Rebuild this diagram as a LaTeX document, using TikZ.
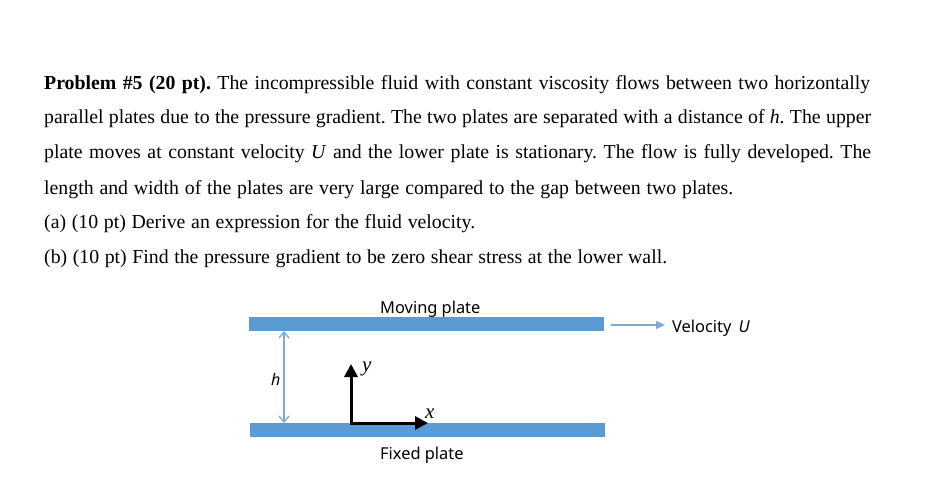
\documentclass[tikz,border=0pt]{standalone}
\usepackage{fontspec}
\setmainfont{Liberation Serif}
\newfontfamily\diagfont{Noto Sans}
\usetikzlibrary{arrows.meta}
\definecolor{plateblue}{HTML}{5B9BD5}
\definecolor{thinblue}{HTML}{7FA9CC}
\tikzset{
  textline/.style={anchor=base west,inner sep=0pt,font=\fontsize{19.8}{19.8}\selectfont\frenchspacing},
  plate/.style={draw=none,fill=plateblue,minimum width=355pt,minimum height=14pt,inner sep=0pt},
  diaglabel/.style={inner sep=0pt,anchor=base west,font=\diagfont\fontsize{16.4}{16.4}\selectfont},
  axis/.style={line width=3pt,-{Triangle[length=13pt,width=13pt]}},
  thin/.style={draw=thinblue,line width=1.3pt},
  mathlabel/.style={inner sep=0pt,anchor=base west,font=\fontsize{21}{21}\selectfont\itshape}
}
\begin{document}
\begin{tikzpicture}[x=1pt,y=-1pt]
\useasboundingbox (0,0) rectangle (937,492);
\fill[white] (0,0) rectangle (937,492);
\node[textline] (l1) at (44,90) {\hbox to 826pt{\textbf{Problem \#5 (20 pt).} The incompressible fluid with constant viscosity flows between two horizontally}};
\node[textline] (l2) at (44,124) {\hbox to 827pt{parallel plates due to the pressure gradient. The two plates are separated with a distance of \textit{h}. The upper}};
\node[textline] (l3) at (44,159) {\hbox to 827pt{plate moves at constant velocity \textit{U} and the lower plate is stationary. The flow is fully developed. The}};
\node[textline] (l4) at (44,194) {\hbox to 689pt{length and width of the plates are very large compared to the gap between two plates.}};
\node[textline] (l5) at (44,228) {\hbox to 431pt{(a) (10 pt) Derive an expression for the fluid velocity.}};
\node[textline] (l6) at (44,263) {\hbox to 623pt{(b) (10 pt) Find the pressure gradient to be zero shear stress at the lower wall.}};
\node[plate] (top) at (426.5,324) {};
\node[plate] (bot) at (427.5,430) {};
\node[diaglabel] (mv) at (380,313) {Moving plate};
\node[diaglabel] (fx) at (380,459) {Fixed plate};
\node[diaglabel] (vel) at (672,332) {Velocity\, \textit{U}};
\coordinate (va) at (611,325);
\coordinate (vb) at (665,325);
\draw[thin,-{Triangle[length=9pt,width=8pt]}] (va) -- (vb);
\coordinate (ha) at (284,331);
\coordinate (hb) at (284,423);
\draw[thin,{Straight Barb[length=6pt,width=10pt]}-{Straight Barb[length=6pt,width=10pt]}] (ha) -- (hb);
\node[diaglabel,font=\diagfont\fontsize{16}{16}\selectfont\itshape] (hl) at (271,385) {h};
\coordinate (o) at (351,423);
\coordinate (ye) at (351,364);
\coordinate (xe) at (428,423);
\draw[axis] (o) -- (ye);
\draw[axis] ([xshift=-1.5pt]o) -- (xe);
\node[mathlabel] (yl) at (362,371) {y};
\node[mathlabel] (xl) at (425,418) {x};
\end{tikzpicture}
\end{document}
